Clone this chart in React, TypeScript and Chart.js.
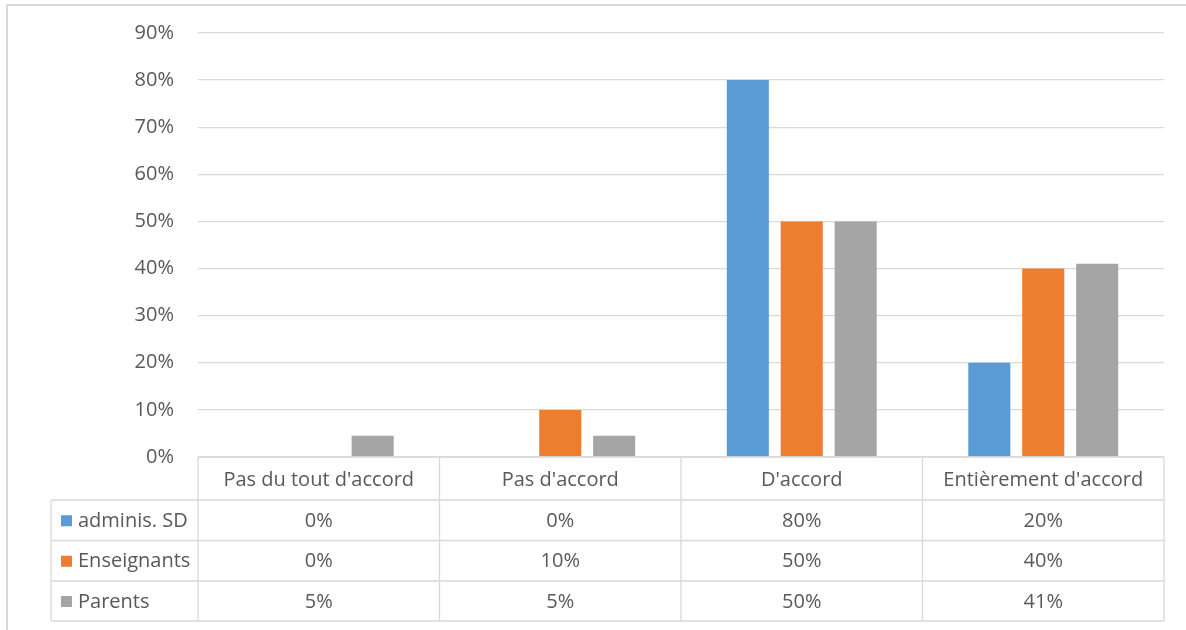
import React, { useEffect, useRef } from "react";
import { Chart, registerables } from "chart.js";

Chart.register(...registerables);

const categories = ["Pas du tout d'accord", "Pas d'accord", "D'accord", "Entièrement d'accord"];
const seriesNames = ["adminis. SD", "Enseignants", "Parents"];
const adminValues = [0, 0, 80, 20];
const enseignantsValues = [0, 10, 50, 40];
const parentsValues = [4.5, 4.5, 50, 41];
const seriesColors = ["#5B9BD5", "#ED7D31", "#A5A5A5"];
const yTicks = [0, 10, 20, 30, 40, 50, 60, 70, 80, 90];

const FONT = "'Open Sans'";
const FONT_SIZE = 20;
const TEXT_COLOR = "#595959";
const LINE_COLOR = "#D9D9D9";

const tablePlugin = {
  id: "dataTable",
  afterDraw(chart: any) {
    const ctx = chart.ctx as CanvasRenderingContext2D;
    const x = chart.scales.x;
    const area = chart.chartArea;
    const step = x.getPixelForValue(1) - x.getPixelForValue(0);
    const half = step / 2;
    const top = area.bottom;
    const rowY = [top, top + 43, top + 83.5, top + 124, top + 164];
    const tableLeft = 51;
    const all = [adminValues, enseignantsValues, parentsValues];

    ctx.save();
    ctx.strokeStyle = LINE_COLOR;
    ctx.lineWidth = 1.3;
    ctx.beginPath();
    ctx.moveTo(area.left, rowY[0]);
    ctx.lineTo(area.right, rowY[0]);
    for (let r = 1; r < rowY.length; r++) {
      ctx.moveTo(tableLeft, rowY[r]);
      ctx.lineTo(area.right, rowY[r]);
    }
    ctx.moveTo(tableLeft, rowY[1]);
    ctx.lineTo(tableLeft, rowY[4]);
    for (let i = 0; i <= categories.length; i++) {
      const px = i < categories.length ? x.getPixelForValue(i) - half : x.getPixelForValue(categories.length - 1) + half;
      ctx.moveTo(px, rowY[0]);
      ctx.lineTo(px, rowY[4]);
    }
    ctx.stroke();

    ctx.lineWidth = 2;
    ctx.beginPath();
    ctx.moveTo(7, 630);
    ctx.lineTo(7, 5);
    ctx.lineTo(1186, 5);
    ctx.stroke();

    ctx.fillStyle = TEXT_COLOR;
    ctx.font = `${FONT_SIZE}px ${FONT}`;
    ctx.textBaseline = "middle";
    ctx.textAlign = "center";
    categories.forEach((c, i) => {
      ctx.fillText(c, x.getPixelForValue(i), (rowY[0] + rowY[1]) / 2 + 1.5);
    });
    all.forEach((vals, s) => {
      const cy = (rowY[s + 1] + rowY[s + 2]) / 2 + 1;
      ctx.textAlign = "center";
      ctx.fillStyle = TEXT_COLOR;
      vals.forEach((v, i) => {
        ctx.fillText(Math.round(v) + "%", x.getPixelForValue(i), cy);
      });
      ctx.fillStyle = seriesColors[s];
      ctx.fillRect(61, cy - 6, 11, 11);
      ctx.fillStyle = TEXT_COLOR;
      ctx.textAlign = "left";
      ctx.fillText(seriesNames[s], 78, cy);
    });
    ctx.restore();
  },
};

export default function App() {
  const ref = useRef<HTMLCanvasElement>(null);
  useEffect(() => {
    if (!ref.current) return;
    const chart = new Chart(ref.current, {
      type: "bar",
      data: {
        labels: categories,
        datasets: [adminValues, enseignantsValues, parentsValues].map((d, i) => ({
          label: seriesNames[i],
          data: d,
          backgroundColor: seriesColors[i],
          borderWidth: 0,
          categoryPercentage: 0.67,
          barPercentage: 0.78,
        })),
      },
      options: {
        responsive: false,
        animation: false,
        devicePixelRatio: 1,
        layout: { padding: { left: 0, right: 22, top: 33, bottom: 173 } },
        plugins: { legend: { display: false }, tooltip: { enabled: false } },
        scales: {
          x: { display: false },
          y: {
            min: 0,
            max: 90,
            afterBuildTicks: (scale: any) => {
              scale.ticks = yTicks.map((v) => ({ value: v }));
            },
            afterFit: (scale: any) => {
              scale.width = 198;
              scale.paddingTop = 0;
              scale.paddingBottom = 0;
            },
            border: { display: false },
            grid: { color: LINE_COLOR, lineWidth: 1.3, drawTicks: false },
            ticks: {
              padding: 24,
              color: TEXT_COLOR,
              font: { family: FONT, size: FONT_SIZE },
              callback: (v: any) => v + "%",
            },
          },
        },
      },
      plugins: [tablePlugin],
    });
    return () => chart.destroy();
  }, []);
  return (
    <div style={{ position: "absolute", left: 0, top: 0, width: 1186, height: 630, background: "#fff" }}>
      <canvas ref={ref} width={1186} height={630} />
    </div>
  );
}
